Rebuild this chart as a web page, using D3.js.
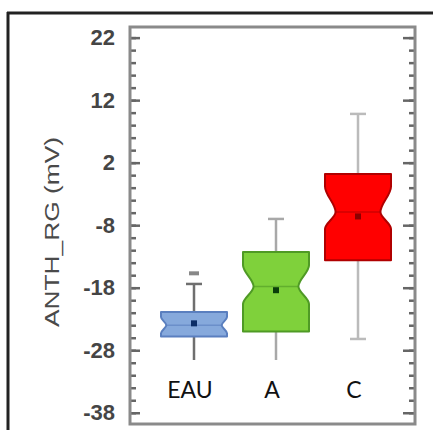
<!DOCTYPE html>
<html>
<head>
<meta charset="utf-8">
<script src="https://cdn.jsdelivr.net/npm/d3@7"></script>
<style>
  body { margin: 0; background: #fff; }
  svg { display: block; }
</style>
</head>
<body>
<script>
// values (mV)
var categories = ["EAU", "A", "C"];
var q1 = [-25.8, -25.0, -13.6];
var q3 = [-21.9, -12.3, 0.2];
var medians = [-24.0, -17.8, -5.9];
var notchLo = [-25.3, -20.6, -8.6];
var notchHi = [-22.7, -14.4, -1.8];
var means = [-23.7, -18.4, -6.6];
var whiskLo = [-31, -31, -26.2];
var whiskHi = [-17.4, -7.0, 9.8];
var outliers = [[-15.7], [], []];
var tickLabels = [22, 12, 2, -8, -18, -28, -38];
var minorTicks = d3.range(-38, 23, 2);

var fills = ["#86a9dc", "#7fd13b", "#ff0000"];
var strokes = ["#5a7fbf", "#4f9a25", "#b00000"];
var dots = ["#0b2d66", "#0a3d0a", "#8b0000"];
var whiskColors = ["#6f6f6f", "#a8a8a8", "#bbb"];

var W = 433, H = 430;
var plot = { left: 130, right: 415, top: 27, bottom: 424 };

var svg = d3.select("body").append("svg")
  .attr("width", W)
  .attr("height", H);

var y = d3.scaleLinear().domain([-39.8, 23.7]).range([plot.bottom, plot.top]);
var x = d3.scalePoint().domain(categories).range([153, 399]).padding(0.5);

var boxW = 66, capW = 16;

// outer black frame (left + top only)
svg.append("line").attr("x1", 8).attr("y1", 12).attr("x2", 8).attr("y2", H)
  .attr("stroke", "#222").attr("stroke-width", 3);
svg.append("line").attr("x1", 7).attr("y1", 13).attr("x2", W).attr("y2", 13)
  .attr("stroke", "#222").attr("stroke-width", 3);

// tick labels
svg.append("g")
  .attr("transform", "translate(" + plot.left + ",0)")
  .call(d3.axisLeft(y).tickValues(tickLabels).tickSize(0).tickPadding(15).tickFormat(function(d){ return String(d); }))
  .call(function(g){ g.select(".domain").remove(); })
  .selectAll("text")
  .attr("font-family", "Liberation Sans, Arial, sans-serif")
  .attr("font-size", 22)
  .attr("font-weight", "bold")
  .attr("fill", "#454545");

// inward ticks, both sides
var tickStyle = function(g) {
  g.select(".domain").remove();
  g.selectAll("text").remove();
  g.selectAll("line").attr("stroke", "#666").attr("stroke-width", 2.5);
};
svg.append("g").attr("transform", "translate(" + plot.left + ",0)")
  .call(d3.axisLeft(y).tickValues(minorTicks).tickSize(-6)).call(tickStyle);
svg.append("g").attr("transform", "translate(" + plot.left + ",0)")
  .call(d3.axisLeft(y).tickValues(tickLabels).tickSize(-10)).call(tickStyle);
svg.append("g").attr("transform", "translate(" + plot.right + ",0)")
  .call(d3.axisRight(y).tickValues(minorTicks).tickSize(-6)).call(tickStyle);
svg.append("g").attr("transform", "translate(" + plot.right + ",0)")
  .call(d3.axisRight(y).tickValues(tickLabels).tickSize(-12)).call(tickStyle);

// grey plot frame
svg.append("rect")
  .attr("x", plot.left).attr("y", plot.top)
  .attr("width", plot.right - plot.left).attr("height", plot.bottom - plot.top)
  .attr("fill", "none").attr("stroke", "#8a8a8a").attr("stroke-width", 3);

// y title
svg.append("text")
  .attr("transform", "translate(59,232) rotate(-90)")
  .attr("text-anchor", "middle")
  .attr("font-family", "Liberation Sans, Arial, sans-serif")
  .attr("font-size", 20)
  .attr("fill", "#4a4a4a")
  .attr("textLength", 190)
  .attr("lengthAdjust", "spacingAndGlyphs")
  .text("ANTH_RG (mV)");

var boxes = categories.map(function(c, i) {
  return { cat: c, i: i, q1: q1[i], q3: q3[i], med: medians[i], nlo: notchLo[i],
           nhi: notchHi[i], mean: means[i], lo: whiskLo[i], hi: whiskHi[i], out: outliers[i] };
});

var g = svg.selectAll(".box").data(boxes).enter().append("g").attr("class", "box");

// whiskers
g.append("line")
  .attr("x1", function(d){ return x(d.cat); }).attr("x2", function(d){ return x(d.cat); })
  .attr("y1", function(d){ return y(d.lo); }).attr("y2", function(d){ return y(d.hi); })
  .attr("stroke", function(d){ return whiskColors[d.i]; }).attr("stroke-width", 2.5);
g.selectAll(".cap").data(function(d){ return [d.lo, d.hi].map(function(v){ return { v: v, d: d }; }); })
  .enter().append("line")
  .attr("x1", function(e){ return x(e.d.cat) - capW / 2; })
  .attr("x2", function(e){ return x(e.d.cat) + capW / 2; })
  .attr("y1", function(e){ return y(e.v); }).attr("y2", function(e){ return y(e.v); })
  .attr("stroke", function(e){ return whiskColors[e.d.i]; }).attr("stroke-width", 2.5);

// outliers
g.selectAll(".out").data(function(d){ return d.out.map(function(v){ return { v: v, d: d }; }); })
  .enter().append("rect")
  .attr("x", function(e){ return x(e.d.cat) - 5; })
  .attr("y", function(e){ return y(e.v) - 2; })
  .attr("width", 10).attr("height", 4)
  .attr("fill", "#888");

// notched boxes, notch sides smoothed
var side = d3.line().curve(d3.curveMonotoneY);
var waist = function(d){ return boxW / 2 * (d.i === 0 ? 0.84 : 0.68); };
g.append("path")
  .attr("d", function(d) {
    var cx = x(d.cat), hw = boxW / 2, nw = waist(d);
    var right = side([
      [cx + hw, y(d.q3)], [cx + hw, y(d.nhi)], [cx + nw, y(d.med)],
      [cx + hw, y(d.nlo)], [cx + hw, y(d.q1)]
    ]);
    var left = side([
      [cx - hw, y(d.q1)], [cx - hw, y(d.nlo)], [cx - nw, y(d.med)],
      [cx - hw, y(d.nhi)], [cx - hw, y(d.q3)]
    ]);
    return right + left.replace(/^M/, "L") + "Z";
  })
  .attr("fill", function(d){ return fills[d.i]; })
  .attr("stroke", function(d){ return strokes[d.i]; })
  .attr("stroke-width", 2)
  .attr("stroke-linejoin", "round");

// median line
g.append("line")
  .attr("x1", function(d){ return x(d.cat) - waist(d); })
  .attr("x2", function(d){ return x(d.cat) + waist(d); })
  .attr("y1", function(d){ return y(d.med); }).attr("y2", function(d){ return y(d.med); })
  .attr("stroke", function(d){ return strokes[d.i]; }).attr("stroke-width", 1.5).attr("opacity", 0.6);

// mean marker
g.append("rect")
  .attr("x", function(d){ return x(d.cat) - 3; })
  .attr("y", function(d){ return y(d.mean) - 3; })
  .attr("width", 6).attr("height", 6)
  .attr("fill", function(d){ return dots[d.i]; });

// white label panel pasted over the lower part
svg.append("rect")
  .attr("x", 148).attr("y", 360).attr("width", 250).attr("height", 46)
  .attr("fill", "#fff");

svg.selectAll(".lab").data(categories).enter().append("text")
  .attr("x", function(c){ return x(c) - 4; })
  .attr("y", 398)
  .attr("text-anchor", "middle")
  .attr("font-family", "Lato, Carlito, sans-serif")
  .attr("font-size", 23)
  .attr("fill", "#111")
  .text(function(c){ return c; });
</script>
</body>
</html>
